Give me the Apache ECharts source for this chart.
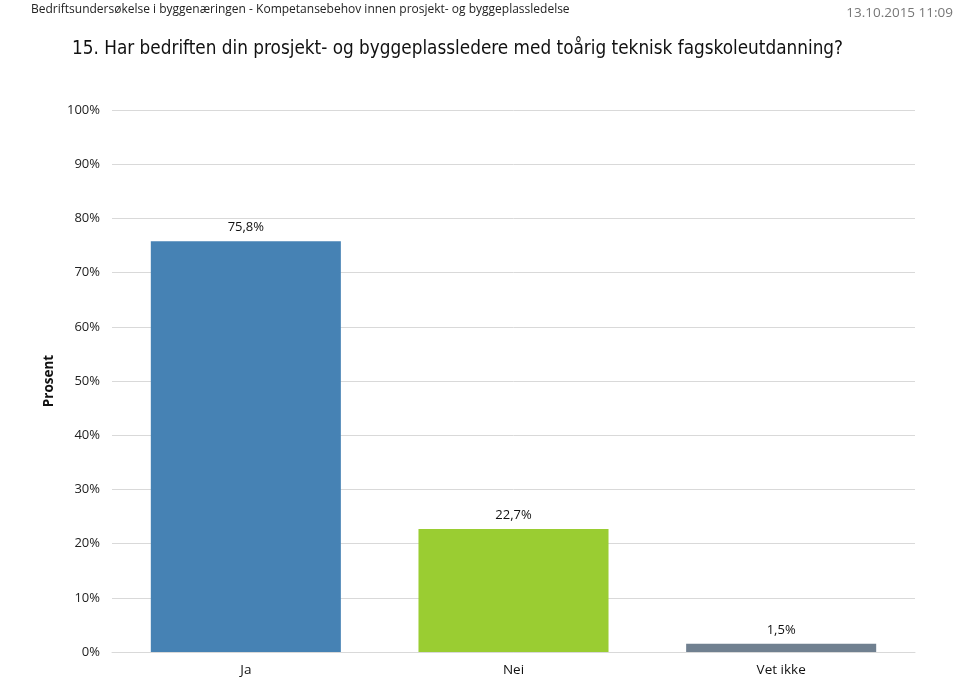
<!DOCTYPE html>
<html><head><meta charset="utf-8">
<script src="https://cdn.jsdelivr.net/npm/echarts@6/dist/echarts.min.js"></script>
<style>html,body{margin:0;padding:0;background:#fff}#c{width:960px;height:677px}</style>
</head><body><div id="c"></div>
<script>
const categories = ['Ja', 'Nei', 'Vet ikke'];
const values = [75.8, 22.7, 1.5];
const colors = ['#4682B4', '#9ACD32', '#708090'];
const yTicks = [0, 10, 20, 30, 40, 50, 60, 70, 80, 90, 100];

const chart = echarts.init(document.getElementById('c'));
chart.setOption({
  animation: false,
  backgroundColor: '#fff',
  title: [
    { text: 'Bedriftsundersøkelse i byggenæringen - Kompetansebehov innen prosjekt- og byggeplassledelse',
      left: 26, top: -1, textStyle: { fontFamily: 'Open Sans', fontSize: 12, fontWeight: 'normal', color: '#222' } },
    { text: '13.10.2015 11:09', right: 2, top: 1, textStyle: { fontFamily: 'Open Sans', fontSize: 13.5, fontWeight: 'normal', color: '#777' } },
    { text: '15. Har bedriften din prosjekt- og byggeplassledere med toårig teknisk fagskoleutdanning?',
      left: 67, top: 35, textStyle: { fontFamily: 'DejaVu Sans Condensed', fontSize: 18.8, fontWeight: 'normal', color: '#111' } }
  ],
  grid: { left: 112, right: 45, top: 110, bottom: 25 },
  xAxis: {
    type: 'category', data: categories,
    axisLine: { show: true, lineStyle: { color: '#d9d9d9' } },
    axisTick: { show: false },
    axisLabel: { fontFamily: 'Open Sans', fontSize: 13.5, color: '#111', margin: 11 }
  },
  yAxis: {
    type: 'value', min: 0, max: 100, interval: 10,
    name: 'Prosent', nameLocation: 'middle', nameGap: 44, nameRotate: 90,
    nameTextStyle: { fontFamily: 'Open Sans', fontSize: 13.5, fontWeight: 'bold', color: '#111' },
    axisLine: { show: false }, axisTick: { show: false },
    splitLine: { lineStyle: { color: '#d9d9d9', width: 1 } },
    axisLabel: { fontFamily: 'Open Sans', fontSize: 13, color: '#222', margin: 12,
      formatter: v => yTicks.includes(v) ? v + '%' : '' }
  },
  series: [{
    type: 'bar', barWidth: '71%',
    data: values.map((v, i) => ({ value: v, itemStyle: { color: colors[i] } })),
    label: { show: true, position: 'top', distance: 7, fontFamily: 'Open Sans', fontSize: 13, color: '#111',
      formatter: p => p.value.toFixed(1).replace('.', ',') + '%' }
  }]
});
</script></body></html>
